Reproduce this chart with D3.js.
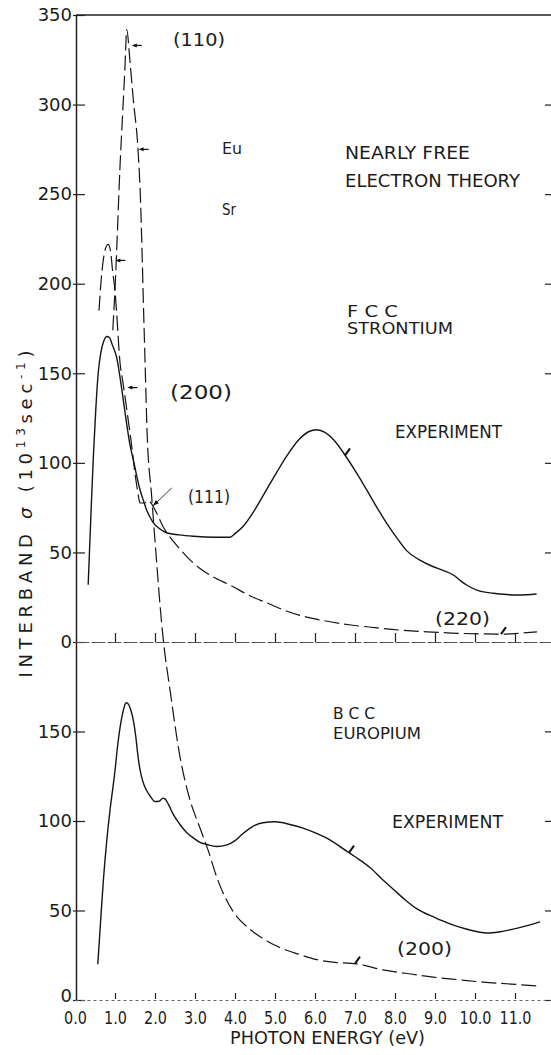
<!DOCTYPE html>
<html>
<head>
<meta charset="utf-8">
<script src="https://cdn.jsdelivr.net/npm/d3@7"></script>
<style>
  body { margin: 0; background: #fff; }
  svg { display: block; }
  text { font-family: "DejaVu Sans", "Liberation Sans", sans-serif; fill: #1c1c1c; }
</style>
</head>
<body>
<svg id="chart" width="551" height="1055"></svg>
<script>
// ---- Data -------------------------------------------------------------
// Photon energy ticks (eV) and their printed labels
const energyTicks = [0, 1, 2, 3, 4, 5, 6, 7, 8, 9, 10, 11];
const energyTickLabels = ["0.0", "1.0", "2.0", "3.0", "4.0", "5.0", "6.0", "7.0", "8.0", "9.0", "10.0", "11.0"];
// Interband conductivity ticks (10^13 sec^-1)
const srTicks = [0, 50, 100, 150, 200, 250, 300, 350];
const euTicks = [0, 50, 100, 150];

// FCC strontium, experiment: [photon energy (eV), sigma]
const srExperiment = [
  [0.33, 32], [0.40, 72], [0.46, 104], [0.52, 130], [0.58, 150], [0.65, 162], [0.72, 168],
  [0.80, 170.5], [0.86, 170], [0.93, 166], [1.04, 159], [1.17, 141], [1.29, 122], [1.375, 110],
  [1.46, 101.5], [1.54, 93], [1.625, 85], [1.71, 79], [1.79, 73.7], [1.88, 69.5], [1.96, 66.5],
  [2.10, 63.5], [2.29, 61], [2.60, 59.8], [2.96, 59], [3.50, 58.5], [3.875, 58.5], [4.0, 60.5],
  [4.2, 64.5], [4.5, 74], [4.8, 85.5], [5.05, 95], [5.3, 104], [5.6, 113], [5.85, 117.5],
  [6.04, 118.5], [6.25, 117], [6.46, 113], [6.79, 103], [7.05, 94], [7.29, 85], [7.55, 75],
  [7.79, 66.4], [8.05, 58], [8.29, 51], [8.6, 46], [8.96, 42], [9.2, 40], [9.46, 37.4],
  [9.65, 34], [9.79, 31.8], [10.1, 28.5], [10.46, 27.2], [10.8, 26.5], [11.04, 26.2],
  [11.3, 26.4], [11.54, 26.8]
];

// FCC strontium, nearly free electron theory
const srTheory = [
  [0.60, 185], [0.65, 201], [0.70, 212], [0.76, 219.5], [0.83, 222], [0.89, 218], [0.94, 207],
  [1.00, 196], [1.04, 184], [1.125, 156], [1.19, 146], [1.25, 137], [1.33, 124], [1.42, 109],
  [1.50, 94], [1.56, 85], [1.60, 79.5], [1.63, 77.6], [1.75, 77.6], [1.83, 79], [1.92, 77],
  [2.04, 72], [2.20, 64.5], [2.375, 58.5], [2.6, 52.5], [2.8, 47.5], [3.1, 41.5], [3.4, 37],
  [3.9, 31.5], [4.4, 25.5], [4.8, 21.8], [5.2, 18], [5.6, 15], [6.2, 12], [6.9, 9.5],
  [7.5, 8], [8.1, 6.7], [8.8, 5.7], [9.4, 5], [10.2, 4.5], [10.7, 4.4], [11.1, 4.9], [11.55, 5.6]
];

// BCC europium, experiment (europium axis)
const euExperiment = [
  [0.57, 20], [0.64, 44], [0.71, 67], [0.79, 88], [0.875, 106], [0.95, 119], [1.0, 128],
  [1.06, 141], [1.125, 152], [1.2, 161], [1.26, 165.5], [1.29, 166], [1.34, 165], [1.4, 161.5],
  [1.46, 156], [1.52, 147], [1.56, 139], [1.6, 132], [1.66, 125], [1.72, 120.5], [1.79, 117],
  [1.875, 114], [2.0, 110.8], [2.1, 111], [2.2, 112.7], [2.25, 112.3], [2.33, 109.5],
  [2.46, 103.5], [2.625, 98], [2.79, 93.5], [2.96, 90.5], [3.125, 88], [3.3, 86.8],
  [3.54, 85.7], [3.8, 86.6], [4.0, 89], [4.2, 93], [4.45, 97], [4.7, 99], [5.0, 99.5],
  [5.375, 98], [5.7, 96], [6.04, 93], [6.4, 89], [6.7, 84.5], [7.0, 80], [7.375, 74],
  [7.7, 67], [7.95, 62], [8.25, 56], [8.54, 51], [9.0, 46], [9.375, 42.5], [9.8, 39.5],
  [10.3, 37.4], [10.6, 38], [11.04, 40], [11.35, 41.8], [11.625, 43.6]
];

// BCC europium, nearly free electron theory (europium axis)
const euTheory = [
  [0.945, 374], [0.9625, 381], [1.0, 396.6], [1.0425, 419], [1.125, 465.4], [1.1875, 493.3],
  [1.25, 521.2], [1.2925, 541.9], [1.375, 524], [1.4575, 502.8], [1.575, 474.9],
  [1.6375, 446.9], [1.675, 419], [1.7075, 391.1], [1.75, 357.5], [1.8, 318.4], [1.9175, 281],
  [2.0425, 244.1], [2.125, 220.7], [2.2075, 201.1], [2.375, 173.2], [2.625, 135.8],
  [2.875, 111.7], [3.125, 96], [3.325, 83.8], [3.55, 68.2], [3.95, 49.5], [4.375, 39.5],
  [4.8, 33], [5.05, 30], [5.6, 25.5], [6.05, 22.5], [6.5, 21], [6.875, 20.5], [7.0, 20.3],
  [7.7, 16.8], [8.3, 14.8], [8.95, 12.8], [9.6, 11.3], [10.2, 10], [10.9, 8.9], [11.58, 7.8]
];

// ---- Scales -----------------------------------------------------------
const svg = d3.select("#chart");
const x = d3.scaleLinear().domain([0, 11.9]).range([75, 551]);
const ySr = d3.scaleLinear().domain([0, 350]).range([642, 15]);   // strontium panel
const yEu = d3.scaleLinear().domain([0, 550]).range([1000, 15]);  // europium panel (shares the sheet)
const axisX = 76;

// ---- Frame and axes ---------------------------------------------------
// top border
svg.append("line").attr("x1", axisX).attr("x2", 551).attr("y1", ySr(350)).attr("y2", ySr(350))
  .attr("stroke", "#222").attr("stroke-width", 1.5);

function styleAxis(g) {
  g.select(".domain").attr("stroke", "#222").attr("stroke-width", 1.5);
  g.selectAll(".tick line").attr("stroke", "#222").attr("stroke-width", 1.2);
  g.selectAll(".tick text").attr("font-family", "DejaVu Sans, sans-serif").attr("fill", "#1c1c1c");
}

const leftSr = svg.append("g").attr("transform", `translate(${axisX},0)`)
  .call(d3.axisLeft(ySr).tickValues(srTicks).tickSizeInner(-9).tickSizeOuter(0).tickPadding(4));
const leftEu = svg.append("g").attr("transform", `translate(${axisX},0)`)
  .call(d3.axisLeft(yEu.copy().domain([0, 200]).range([1000, 642])).tickValues(euTicks)
    .tickSizeInner(-9).tickSizeOuter(0).tickPadding(4));
[leftSr, leftEu].forEach(g => {
  styleAxis(g);
  g.selectAll(".tick line").attr("x1", -3);
  g.selectAll(".tick text").attr("font-size", 18);
});
// lift the europium zero label clear of the energy labels below it
leftEu.selectAll(".tick text").filter(d => d === 0).attr("dy", "0.1em");

// right-hand inward ticks
const rightSr = svg.append("g").attr("transform", "translate(551,0)")
  .call(d3.axisRight(ySr).tickValues(srTicks.filter(v => v > 0 && v < 350)).tickSizeInner(-6).tickFormat(""));
const rightEu = svg.append("g").attr("transform", "translate(551,0)")
  .call(d3.axisRight(yEu).tickValues(euTicks).tickSizeInner(-6).tickFormat(""));
[rightSr, rightEu].forEach(g => { styleAxis(g); g.select(".domain").remove(); });

// strontium zero line with upward ticks
const midAxis = svg.append("g").attr("transform", `translate(0,${ySr(0)})`)
  .call(d3.axisBottom(x).tickValues(energyTicks.slice(1)).tickSizeInner(-9).tickSizeOuter(0).tickFormat(""));
styleAxis(midAxis);
midAxis.select(".domain").attr("stroke", "#555").attr("stroke-width", 1).attr("stroke-dasharray", "14,2");

// bottom energy axis
const bottomAxis = svg.append("g").attr("transform", `translate(0,${yEu(0)})`)
  .call(d3.axisBottom(x).tickValues(energyTicks).tickSizeInner(-7).tickSizeOuter(0).tickPadding(11)
    .tickFormat((d, i) => energyTickLabels[i]));
styleAxis(bottomAxis);
bottomAxis.select(".domain").attr("stroke", "#666").attr("stroke-width", 1).attr("stroke-dasharray", "3,3");
bottomAxis.selectAll(".tick line").attr("y1", -1).filter(d => d === 0).remove();
bottomAxis.selectAll(".tick text").attr("font-size", 18).attr("transform", "scale(0.8,1)");

// ---- Curves -----------------------------------------------------------
const lineSr = d3.line().x(d => x(d[0])).y(d => ySr(d[1])).curve(d3.curveMonotoneX);
const lineEu = d3.line().x(d => x(d[0])).y(d => yEu(d[1])).curve(d3.curveMonotoneX);

const curves = svg.append("g").attr("fill", "none").attr("stroke", "#151515").attr("stroke-linejoin", "round");
curves.append("path").attr("d", lineSr(srExperiment)).attr("stroke-width", 1.4);
curves.append("path").attr("d", lineEu(euExperiment)).attr("stroke-width", 1.4);
curves.append("path").attr("d", lineSr(srTheory)).attr("stroke-width", 1.2).attr("stroke-dasharray", "15,5");
curves.append("path").attr("d", lineEu(euTheory)).attr("stroke-width", 1.2).attr("stroke-dasharray", "15,5");

// ---- Curve identification marks ----------------------------------------
function valueAt(series, e) {
  for (let i = 1; i < series.length; i++) {
    const a = series[i - 1], b = series[i];
    if (e >= a[0] && e <= b[0]) return a[1] + (b[1] - a[1]) * (e - a[0]) / (b[0] - a[0]);
  }
  return series[series.length - 1][1];
}
const flagMarks = [
  { series: srExperiment, y: ySr, e: 6.75 },
  { series: euExperiment, y: yEu, e: 6.85 },
  { series: srTheory, y: ySr, e: 10.65 },
  { series: euTheory, y: yEu, e: 7.0 }
];
flagMarks.forEach(m => {
  const px = x(m.e), py = m.y(valueAt(m.series, m.e));
  svg.append("line").attr("x1", px).attr("y1", py).attr("x2", px + 5).attr("y2", py - 7)
    .attr("stroke", "#111").attr("stroke-width", 2);
});

// small pointer arrows on the low-energy peaks (energy, sigma on strontium axis)
const pointers = [[1.42, 333], [1.59, 275], [1.01, 213], [1.31, 142]];
pointers.forEach(p => {
  const px = x(p[0]), py = ySr(p[1]);
  svg.append("line").attr("x1", px + 3).attr("x2", px + 10).attr("y1", py).attr("y2", py)
    .attr("stroke", "#111").attr("stroke-width", 1.2);
  svg.append("path").attr("d", `M${px},${py} L${px + 5},${py - 2} L${px + 5},${py + 2} Z`).attr("fill", "#111");
});
// (111) leader
{
  const hx = x(1.95), hy = ySr(76), tx = x(2.42), ty = ySr(86);
  svg.append("line").attr("x1", hx).attr("y1", hy).attr("x2", tx).attr("y2", ty)
    .attr("stroke", "#222").attr("stroke-width", 0.9);
  const ang = Math.atan2(ty - hy, tx - hx);
  const l = 6, w = 2.2;
  const bx = hx + l * Math.cos(ang), by = hy + l * Math.sin(ang);
  svg.append("path").attr("d",
    `M${hx},${hy} L${bx - w * Math.sin(ang)},${by + w * Math.cos(ang)} L${bx + w * Math.sin(ang)},${by - w * Math.cos(ang)} Z`)
    .attr("fill", "#111");
}

// ---- Annotations ------------------------------------------------------
const annotations = [
  { text: "(110)", e: 2.45, v: 332.7, y: ySr, w: 52, size: 18 },
  { text: "Eu", e: 3.675, v: 272.4, y: ySr, w: 20, size: 16 },
  { text: "NEARLY FREE", e: 6.75, v: 269.6, y: ySr, w: 125, size: 17 },
  { text: "ELECTRON THEORY", e: 6.75, v: 254.0, y: ySr, w: 175, size: 17 },
  { text: "Sr", e: 3.675, v: 238.1, y: ySr, w: 14, size: 16 },
  { text: "F C C", e: 6.8, v: 181.5, y: ySr, w: 51, size: 15 },
  { text: "STRONTIUM", e: 6.8, v: 172, y: ySr, w: 106, size: 15 },
  { text: "(200)", e: 2.375, v: 135.6, y: ySr, w: 62, size: 19 },
  { text: "EXPERIMENT", e: 8.0, v: 113.9, y: ySr, w: 107, size: 17 },
  { text: "(111)", e: 2.825, v: 77.6, y: ySr, w: 42, size: 18 },
  { text: "(220)", e: 9.0, v: 9.5, y: ySr, w: 55, size: 18 },
  { text: "B C C", e: 6.45, v: 157, y: yEu, w: 42, size: 15 },
  { text: "EUROPIUM", e: 6.45, v: 146, y: yEu, w: 88, size: 15 },
  { text: "EXPERIMENT", e: 7.925, v: 96.1, y: yEu, w: 111, size: 17 },
  { text: "(200)", e: 8.05, v: 25.1, y: yEu, w: 55, size: 18 }
];
svg.append("g").selectAll("text").data(annotations).join("text")
  .attr("x", d => x(d.e)).attr("y", d => d.y(d.v))
  .attr("font-size", d => d.size)
  .attr("textLength", d => d.w).attr("lengthAdjust", "spacingAndGlyphs")
  .text(d => d.text);

// axis titles
svg.append("text").attr("x", 230).attr("y", 1044).attr("font-size", 17)
  .attr("textLength", 195).attr("lengthAdjust", "spacingAndGlyphs")
  .text("PHOTON ENERGY (eV)");

const yTitle = svg.append("text").attr("transform", "translate(32,514) rotate(-90)")
  .attr("text-anchor", "middle").attr("font-size", 18)
  .attr("textLength", 327).attr("lengthAdjust", "spacing");
yTitle.append("tspan").text("INTERBAND  ");
yTitle.append("tspan").attr("font-style", "italic").text("σ");
yTitle.append("tspan").text("  (10");
yTitle.append("tspan").attr("dy", -7).attr("font-size", 12).text("13");
yTitle.append("tspan").attr("dy", 7).text("sec");
yTitle.append("tspan").attr("dy", -7).attr("font-size", 12).text("-1");
yTitle.append("tspan").attr("dy", 7).text(")");
</script>
</body>
</html>
